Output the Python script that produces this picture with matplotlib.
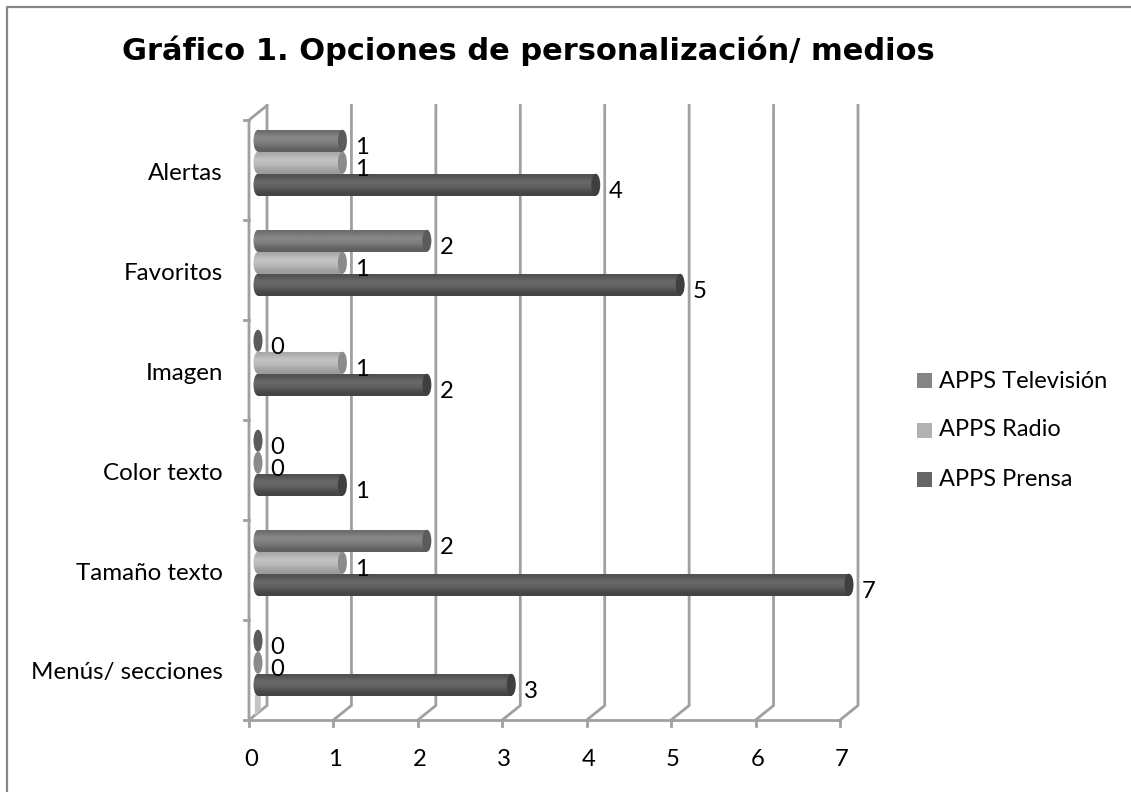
import numpy as np
import matplotlib
matplotlib.use("Agg")
import matplotlib.pyplot as plt
from matplotlib.lines import Line2D
from matplotlib.patches import Ellipse, Rectangle, Polygon

W, H = 1131, 792

categorias = ["Menús/ secciones", "Tamaño texto", "Color texto", "Imagen", "Favoritos", "Alertas"]
prensa = [3, 7, 1, 2, 5, 4]
radio = [0, 1, 0, 1, 1, 1]
television = [0, 2, 0, 0, 2, 1]
series = ["APPS Prensa", "APPS Radio", "APPS Televisión"]
ticks_x = [0, 1, 2, 3, 4, 5, 6, 7]

# borde, centro, abajo (degradado) y color de la tapa
col_prensa = ("#505050", "#6c6c6c", "#444444", "#3f3f3f")
col_radio = ("#a8a8a8", "#c6c6c6", "#9c9c9c", "#8a8a8a")
col_tv = ("#6c6c6c", "#8c8c8c", "#5f5f5f", "#5b5b5b")
col_leyenda = ["#666666", "#b2b2b2", "#858585"]
gris = "#a0a0a0"

fig = plt.figure(figsize=(W / 100, H / 100), dpi=100)
plt.rcParams["font.family"] = ["Lato", "DejaVu Sans"]

# ejes en el plano frontal del grafico 3D
x0, x1, y0, y1 = 249, 840, 720, 120
ax = fig.add_axes([x0 / W, 1 - y0 / H, (x1 - x0) / W, (y0 - y1) / H])
ax.set_xlim(0, 7)
ax.set_ylim(0, 6)
ax.axis("off")

dx = 18 / ((x1 - x0) / 7)
dy = 14.5 / 100

# borde exterior (solo arriba e izquierda)
fig.add_artist(Line2D([6.5 / W, 6.5 / W, 1], [0, 1 - 6.5 / H, 1 - 6.5 / H], color="#868686", lw=1.6,
                      transform=fig.transFigure))

# paredes
for v in ticks_x:
    ax.plot([v, v + dx, v + dx], [0, dy, 6 + dy], color=gris, lw=2, clip_on=False, solid_joinstyle="miter")
    ax.plot([v, v], [0, -0.06], color=gris, lw=2, clip_on=False)
ax.plot([0, 7], [0, 0], color=gris, lw=2, clip_on=False)
ax.plot([0, 0, dx], [0, 6, 6 + dy], color=gris, lw=2, clip_on=False)
for c in range(7):
    ax.plot([-0.06, 0], [c, c], color=gris, lw=2, clip_on=False)

ax.add_patch(Polygon([[0.07, 0.04], [0.14, 0.1], [0.14, 0.25], [0.07, 0.25]], fc="#c4c4c4", ec="none", zorder=2))


def color_grad(cols):
    a, b, c = [np.array(matplotlib.colors.to_rgb(k)) for k in cols[:3]]
    filas = [a, (a + b) / 2, b, (b * 2 + a) / 3, (a + b) / 2, (a + c) / 2, c]
    return np.array(filas)[:, None, :]


def cilindro(valor, yc, cols, z):
    alto = 0.22
    ew = 9 / ((x1 - x0) / 7)
    xa = dx / 2
    xb = xa + valor
    if valor > 0:
        cuerpo = Rectangle((xa, yc - alto / 2), valor, alto, fc="none", ec="none", zorder=z)
        ax.add_patch(cuerpo)
        im = ax.imshow(color_grad(cols), extent=[xa, xb, yc - alto / 2, yc + alto / 2],
                       aspect="auto", interpolation="bicubic", zorder=z)
        im.set_clip_path(cuerpo)
        elipse = Ellipse((xa, yc), ew, alto, fc="none", ec="none", zorder=z)
        ax.add_patch(elipse)
        im2 = ax.imshow(color_grad(cols), extent=[xa - ew / 2, xa + 0.01, yc - alto / 2, yc + alto / 2],
                        aspect="auto", interpolation="bicubic", zorder=z)
        im2.set_clip_path(elipse)
    ax.add_patch(Ellipse((xb, yc), ew, alto, fc=cols[3], ec="none", zorder=z + 0.1, clip_on=False))
    ax.text(xb + 0.15, yc - 0.07, str(valor), fontsize=17.2, color="black", ha="left", va="center",
            zorder=z + 1, clip_on=False)


for i, cat in enumerate(categorias):
    c = i + 0.5 + dy / 2
    cilindro(television[i], c + 0.22, col_tv, 3)
    cilindro(radio[i], c, col_radio, 3.2)
    cilindro(prensa[i], c - 0.22, col_prensa, 3.4)
    ax.text(-0.31, i + 0.47, cat, ha="right", va="center", fontsize=17.4, color="black", clip_on=False)

for v in ticks_x:
    ax.text(v + 0.02, -0.39, str(v), ha="center", va="center", fontsize=17.2, color="black", clip_on=False)

ax.set_xlim(0, 7)
ax.set_ylim(0, 6)

fig.text(528 / W, 1 - 51 / H, "Gráfico 1. Opciones de personalización/ medios", ha="center", va="center",
         fontsize=22, fontweight="bold", family="DejaVu Sans", color="black")

# leyenda
for nombre, col, yl in zip(series, col_leyenda, [479, 430, 381]):
    fig.add_artist(Rectangle((917 / W, 1 - (yl + 7.5) / H), 15 / W, 15 / H, fc=col, ec="none",
                             transform=fig.transFigure))
    fig.text(939 / W, 1 - yl / H, nombre, ha="left", va="center", fontsize=17, color="black")

fig.savefig("out.png", dpi=100, facecolor="white")
